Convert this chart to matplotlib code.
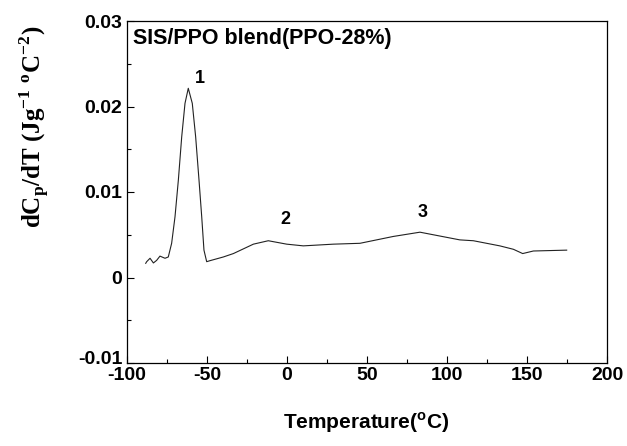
import matplotlib

matplotlib.use("Agg")

import matplotlib.pyplot as plt
from matplotlib.ticker import MultipleLocator
from matplotlib.transforms import ScaledTranslation

plt.rcParams["font.family"] = "Liberation Sans"
plt.rcParams["axes.unicode_minus"] = False
plt.rcParams["mathtext.fontset"] = "custom"
plt.rcParams["mathtext.rm"] = "Liberation Serif:bold"
plt.rcParams["mathtext.bf"] = "Liberation Serif:bold"
plt.rcParams["mathtext.sf"] = "Liberation Sans:bold"

# curve: temperature (C) and dCp/dT
temperature = [-88.3, -87.7, -85.6, -83.5, -81.5, -79.4, -76.25, -74.2, -72.1, -70.0,
               -67.9, -65.8, -63.75, -61.7, -59.2, -57.1, -55.0, -53.3, -51.9, -50.2,
               -48.1, -39.8, -33.5, -21.0, -11.7, -0.2, 10.2, 29.0, 45.6, 66.4,
               83.1, 108.0, 116.5, 133.0, 141.5, 147.3, 154.0, 174.8]
dcp_dt = [0.00166, 0.00185, 0.00225, 0.0017, 0.0020, 0.0025, 0.00225, 0.0024, 0.0040, 0.0071,
          0.0114, 0.01647, 0.02037, 0.02213, 0.02037, 0.01647, 0.0114, 0.0071, 0.0032, 0.00185,
          0.00197, 0.0024, 0.0028, 0.0039, 0.0043, 0.0039, 0.0037, 0.0039, 0.0040, 0.0048,
          0.0053, 0.0044, 0.0043, 0.0037, 0.0033, 0.0028, 0.0031, 0.0032]

peak_labels = ["1", "2", "3"]
peak_x = [-54.4, -1.2, 85.0]
peak_y = [0.0233, 0.0068, 0.0076]

fig = plt.figure(figsize=(6.27, 4.46), dpi=100)
ax = fig.add_axes([127 / 627, 1 - 363 / 446, 480 / 627, 342 / 446])

ax.plot(temperature, dcp_dt, color="#222222", lw=0.8)

for lab, px, py in zip(peak_labels, peak_x, peak_y):
    ax.text(px, py, lab, fontsize=13, fontweight="bold", ha="center", va="center")

ax.text(0.012, 0.95, "SIS/PPO blend(PPO-28%)", transform=ax.transAxes,
        fontsize=15.5, fontweight="bold", ha="left", va="center")

ax.set_xlim(-100, 200)
ax.set_ylim(-0.01, 0.03)
ax.xaxis.set_major_locator(MultipleLocator(50))
ax.xaxis.set_minor_locator(MultipleLocator(25))
ax.yaxis.set_minor_locator(MultipleLocator(0.005))
ax.set_yticks([-0.01, 0, 0.01, 0.02, 0.03])
ax.set_yticklabels(["-0.01", "0", "0.01", "0.02", "0.03"])
ax.tick_params(which="both", direction="in", labelsize=14, width=0.8)
ax.tick_params(which="major", length=5)
ax.tick_params(which="minor", length=3)
ax.tick_params(axis="x", pad=3)
for t in ax.get_xticklabels() + ax.get_yticklabels():
    t.set_fontweight("bold")
for sp in ax.spines.values():
    sp.set_linewidth(0.9)

# lift the lowest y label a little so it clears "-100", as in the original
low_lab = ax.get_yticklabels()[0]
low_lab.set_transform(low_lab.get_transform() + ScaledTranslation(0, 0.05, fig.dpi_scale_trans))

fig.text(366 / 627, 1 - 423 / 446, r"Temperature($^{\mathsf{o}}$C)",
         fontsize=15, fontweight="bold", ha="center", va="center")
fig.text(35 / 627, 1 - 127 / 446,
         r"dC$_\mathbf{p}$/dT (Jg$^{\mathbf{-1}}$ $^{\mathbf{o}}$C$^{\mathbf{-2}}$)",
         family="Liberation Serif", fontsize=18, fontweight="bold",
         rotation=90, ha="center", va="center")

fig.savefig("out.png", dpi=100)
